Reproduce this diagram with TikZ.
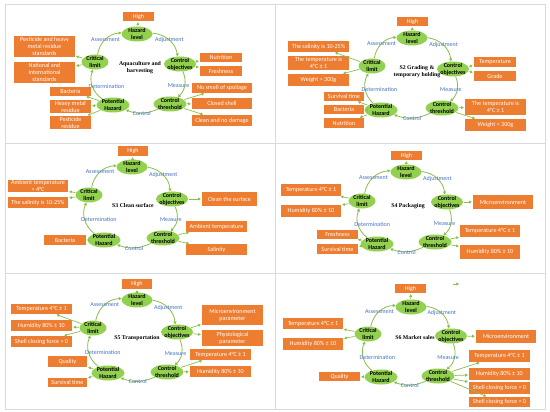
\documentclass[tikz,border=0pt]{standalone}
\usepackage{fontspec}
\setmainfont{Carlito}
\newfontfamily\ttlfont{Liberation Serif}
\usepackage{tikz}
\usetikzlibrary{arrows.meta,shapes.geometric}
\definecolor{boxorange}{RGB}{237,125,49}
\definecolor{ellgreen}{RGB}{146,208,80}
\definecolor{arrgreen}{RGB}{140,190,75}
\definecolor{labblue}{RGB}{68,114,196}
\definecolor{framegray}{RGB}{214,219,226}
\tikzset{
  obox/.style={fill=boxorange, text=white, align=center, inner sep=0.5pt,
    font=\fontsize{6.1}{7}\selectfont},
  ell/.style={ellipse, fill=ellgreen, align=center, inner xsep=-2.5pt, inner ysep=-3pt,
    minimum width=31, minimum height=15, text=black,
    font=\fontsize{6}{7}\selectfont\bfseries},
  ttl/.style={align=center, inner sep=0pt, font={\ttlfont\bfseries\fontsize{5.8}{7}\selectfont}},
  lab/.style={text=labblue, inner sep=0pt, font=\fontsize{6}{7}\selectfont},
  cyc/.style={-{Triangle[length=2.8pt,width=3pt]}, draw=arrgreen, line width=0.8pt},
  sa/.style={-{Triangle[length=2.6pt,width=2.8pt]}, draw=arrgreen, line width=0.7pt,
    shorten >=1pt, shorten <=0.5pt},
  frame/.style={draw=framegray, line width=0.8pt},
}
% orange box from its corners (x1,y1) to (x2,y2)
\newcommand{\obx}[6]{%
  \node[obox, minimum width={#4-#2}, minimum height={#5-#3}] (#1)
    at ({(#2+#4)/2},{(#3+#5)/2}) {#6};}
% the five-step cycle of one panel
\newcommand{\hcycle}[8]{%
  \node[ell] (hl#1) at (#2) {Hazard\\level};
  \node[ell, minimum width=27] (cl#1) at (#3) {Critical\\limit};
  \node[ell, minimum width=32] (co#1) at (#4) {Control\\objectives};
  \node[ell, minimum width=33] (ct#1) at (#5) {Control\\threshold};
  \node[ell, minimum width=33] (ph#1) at (#6) {Potential\\Hazard};
  \node[ttl] (tt#1) at (#7) {#8};
  \draw[cyc] (cl#1) to[bend left=38] node[lab] {Assessment} (hl#1);
  \draw[cyc] (hl#1) to[bend left=38] node[lab] {Adjustment} (co#1);
  \draw[cyc] (co#1) to[bend left=35] node[lab, left=-5pt] {Measure} (ct#1);
  \draw[cyc] (ct#1) to[bend left=22] node[lab, below=-2pt] {Control} (ph#1);
  \draw[cyc] (ph#1) to[bend left=38] node[lab, right=-4pt] {Determination} (cl#1);
  \draw[sa] (hl#1) -- (high#1);}

\begin{document}
\begin{tikzpicture}[x=1pt,y=-1pt]
  \fill[white] (0,0) rectangle (550,412);
  \useasboundingbox (0,0) rectangle (550,412);
  \draw[frame] (5,4) rectangle (545,409);
  \draw[frame] (275,4) -- (275,409);
  \draw[frame] (5,143) -- (545,143);
  \draw[frame] (5,273) -- (545,273);

  % panel 1
  \obx{high1}{123}{12}{154}{21}{High}
  \hcycle{1}{137,34}{95,62}{180,64}{170,104}{113,105}{140,68}{Aquaculture and\\harvesting}
  \obx{b1a}{14}{36}{75}{57}{Pesticide and heavy\\metal residue\\standards}
  \obx{b1b}{14}{62}{75}{83}{National and\\international\\standards}
  \obx{b1c}{200}{53}{242}{62}{Nutrition}
  \obx{b1d}{200}{66}{242}{76}{Freshness}
  \obx{b1e}{192}{83}{252}{93}{No smell of spoilage}
  \obx{b1f}{192}{98}{252}{109}{Closed shell}
  \obx{b1g}{192}{115}{252}{126}{Clean and no damage}
  \obx{b1h}{50}{87}{91}{96}{Bacteria}
  \obx{b1i}{50}{100}{91}{113}{Heavy metal\\residue}
  \obx{b1j}{50}{116}{91}{129}{Pesticide\\residue}
  \foreach \b in {b1a,b1b} \draw[sa] (cl1) -- (\b);
  \foreach \b in {b1c,b1d} \draw[sa] (co1) -- (\b);
  \foreach \b in {b1e,b1f,b1g} \draw[sa] (ct1) -- (\b);
  \foreach \b in {b1h,b1i,b1j} \draw[sa] (ph1) -- (\b);

  % panel 2
  \obx{high2}{397}{17}{428}{26}{High}
  \hcycle{2}{412,38}{372,66}{453,69}{442,108}{381,110}{417,72}{S2 Grading \&\\temporary holding}
  \obx{b2a}{288}{41}{349}{52}{The salinity is 10-25\%}
  \obx{b2b}{288}{56}{349}{70}{The temperature is\\4°C ± 1}
  \obx{b2c}{288}{74}{349}{86}{Weight > 300g}
  \obx{b2d}{474}{57}{516}{67}{Temperature}
  \obx{b2e}{474}{71}{516}{81}{Grade}
  \obx{b2f}{465}{99}{526}{115}{The temperature is\\4°C ± 1}
  \obx{b2g}{465}{119}{526}{131}{Weight > 300g}
  \obx{b2h}{324}{92}{364}{101}{Survival time}
  \obx{b2i}{324}{105}{364}{114}{Bacteria}
  \obx{b2j}{324}{118}{364}{128}{Nutrition}
  \foreach \b in {b2a,b2c} \draw[sa] (cl2) -- (\b);
  \foreach \b in {b2d,b2e} \draw[sa] (co2) -- (\b);
  \foreach \b in {b2f,b2g} \draw[sa] (ct2) -- (\b);
  \foreach \b in {b2h,b2i,b2j} \draw[sa] (ph2) -- (\b);

  % panel 3
  \obx{high3}{118}{146}{148}{156}{High}
  \hcycle{3}{132,167}{89,195}{172,199}{163,238}{104,240}{133,205}{S3 Clean surface}
  \obx{b3a}{8}{180}{68}{192}{Ambient temperature\\< 4°C}
  \obx{b3b}{8}{197}{68}{208}{The salinity is 10-25\%}
  \obx{b3c}{202}{192}{257}{206}{Clean the surface}
  \obx{b3d}{186}{221}{247}{232}{Ambient temperature}
  \obx{b3e}{186}{244}{247}{255}{Salinity}
  \obx{b3f}{44}{235}{86}{245}{Bacteria}
  \foreach \b in {b3a,b3b} \draw[sa] (cl3) -- (\b);
  \draw[sa] (co3) -- (b3c);
  \foreach \b in {b3d,b3e} \draw[sa] (ct3) -- (\b);
  \draw[sa] (ph3) -- (b3f);

  % panel 4
  \obx{high4}{391}{151}{422}{160}{High}
  \hcycle{4}{406,172}{362,201}{447,202}{435,242}{377,244}{408,206}{S4 Packaging}
  \obx{b4a}{281}{184}{341}{196}{Temperature 4°C ± 1}
  \obx{b4b}{281}{205}{341}{217}{Humidity 80\% ± 10}
  \obx{b4c}{473}{195}{533}{209}{Microenvironment}
  \obx{b4d}{460}{225}{520}{237}{Temperature 4°C ± 1}
  \obx{b4e}{460}{245}{520}{259}{Humidity 80\% ± 10}
  \obx{b4f}{317}{230}{358}{239}{Freshness}
  \obx{b4g}{317}{244}{358}{254}{Survival time}
  \foreach \b in {b4a,b4b} \draw[sa] (cl4) -- (\b);
  \draw[sa] (co4) -- (b4c);
  \foreach \b in {b4d,b4e} \draw[sa] (ct4) -- (\b);
  \foreach \b in {b4f,b4g} \draw[sa] (ph4) -- (\b);

  % panel 5
  \obx{high5}{122}{279}{152}{289}{High}
  \hcycle{5}{137,300}{93,328}{177,332}{167,372}{108,373}{137,338}{S5 Transportation}
  \obx{b5a}{11}{304}{72}{314}{Temperature 4°C ± 1}
  \obx{b5b}{11}{320}{72}{331}{Humidity 80\% ± 10}
  \obx{b5c}{11}{336}{72}{347}{Shell closing force > 0}
  \obx{b5d}{202}{305}{263}{325}{Microenvironment\\parameter}
  \obx{b5e}{202}{330}{263}{346}{Physiological\\parameter}
  \obx{b5f}{190}{349}{251}{360}{Temperature 4°C ± 1}
  \obx{b5g}{190}{366}{251}{377}{Humidity 80\% ± 10}
  \obx{b5h}{48}{356}{87}{367}{Quality}
  \obx{b5i}{48}{378}{87}{387}{Survival time}
  \foreach \b in {b5a,b5b,b5c} \draw[sa] (cl5) -- (\b);
  \foreach \b in {b5d,b5e} \draw[sa] (co5) -- (\b);
  \foreach \b in {b5f,b5g} \draw[sa] (ct5) -- (\b);
  \foreach \b in {b5h,b5i} \draw[sa] (ph5) -- (\b);

  % panel 6
  \obx{high6}{395}{284}{426}{293}{High}
  \hcycle{6}{411,307}{368,334}{451,336}{438,376}{381,377}{415,338}{S6 Market sales}
  \obx{b6a}{283}{318}{343}{329}{Temperature 4°C ± 1}
  \obx{b6b}{283}{338}{343}{350}{Humidity 80\% ± 10}
  \obx{b6c}{476}{330}{536}{343}{Microenvironment}
  \obx{b6d}{469}{350}{530}{362}{Temperature 4°C ± 1}
  \obx{b6e}{469}{368}{530}{380}{Humidity 80\% ± 10}
  \obx{b6f}{469}{382}{530}{394}{Shell closing force > 0}
  \obx{b6g}{469}{397}{530}{407}{Shell closing force > 0}
  \obx{b6h}{319}{372}{360}{381}{Quality}
  \foreach \b in {b6a,b6b} \draw[sa] (cl6) -- (\b);
  \draw[sa] (co6) -- (b6c);
  \foreach \b in {b6d,b6e,b6f,b6g} \draw[sa] (ct6) -- (\b);
  \draw[sa] (ph6) -- (b6h);
  \coordinate (s6a) at (452,284);
  \coordinate (s6b) at (460,284);
  \draw[sa] (s6a) -- (s6b);
\end{tikzpicture}
\end{document}
